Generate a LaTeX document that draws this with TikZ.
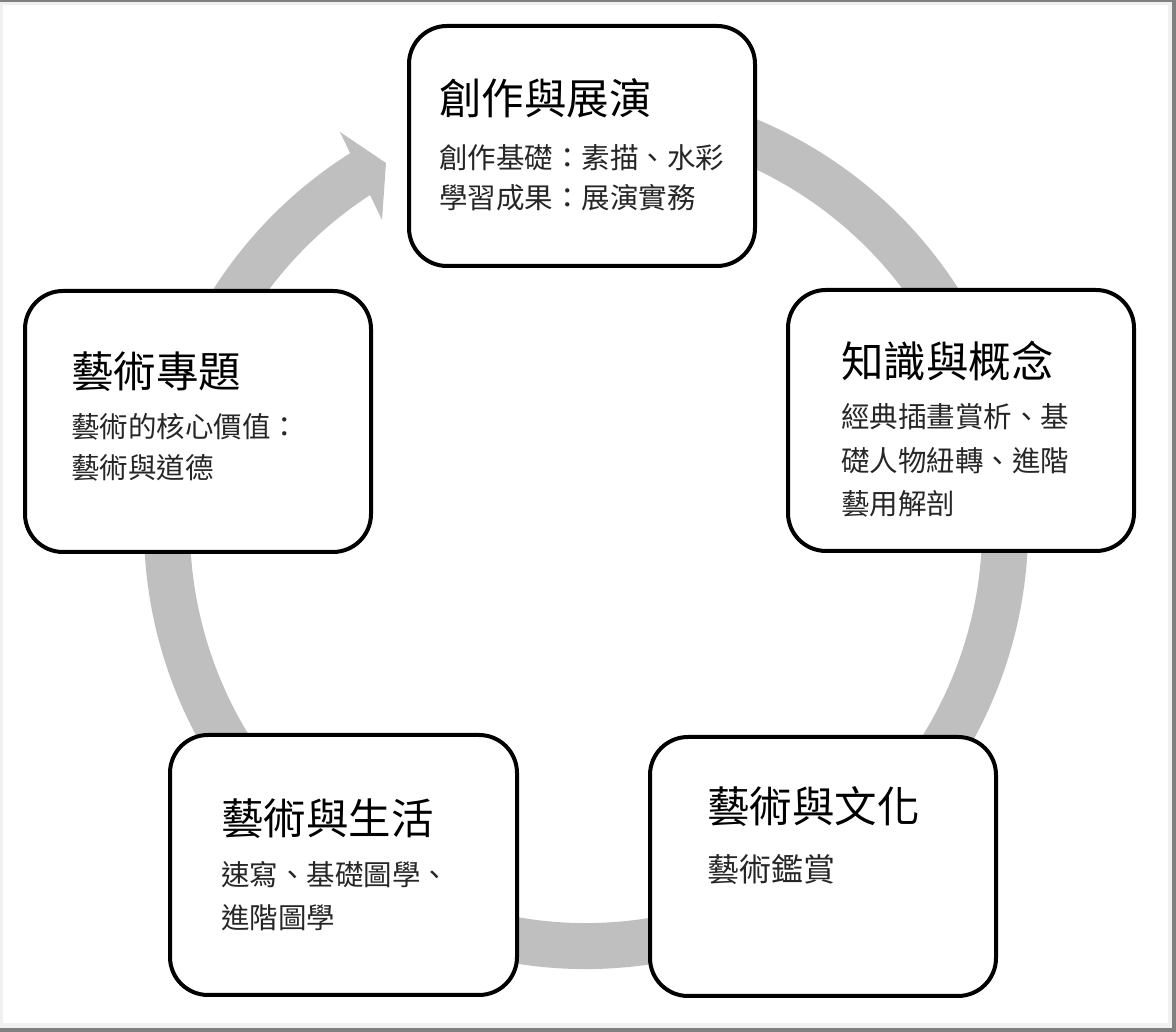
\documentclass[tikz,border=0pt]{standalone}
\usepackage{fontspec}
\newfontfamily\cjk{Noto Sans CJK TC}
\usetikzlibrary{calc}
\definecolor{ringgrey}{RGB}{191,191,191}
\definecolor{framedark}{RGB}{128,128,128}
\definecolor{framelight}{RGB}{240,240,240}
\begin{document}
\begin{tikzpicture}[x=1pt,y=1pt,
  card/.style={draw=black, line width=4pt, fill=white, rounded corners=38pt, inner sep=0pt, outer sep=0pt},
  ttl/.style={anchor=west, inner sep=0pt, font=\cjk\fontsize{42.5}{50}\selectfont, text=black},
  sub/.style={anchor=west, inner sep=0pt, font=\cjk\fontsize{28.5}{34}\selectfont, text=black!85},
  bigsub/.style={sub, font=\cjk\fontsize{32}{38}\selectfont}]
\useasboundingbox (0,0) rectangle (1176,1032);
% frame
\fill[framelight] (0,0) rectangle (1176,1032);
\fill[framedark] (0,1030) rectangle (1176,1032);
\fill[framedark] (1172,0) rectangle (1176,1032);
\fill[framedark] (0,0) rectangle (1176,4);
\fill[white] (3,9) rectangle (1168,1027);
% cycle ring with arrow head
\coordinate (c) at (586,505);
\draw[ringgrey, line width=46pt] ($(c)+(105:419)$) arc[start angle=105, end angle=-239, radius=419];
\fill[ringgrey] (340,900) -- (386,869) -- (382,812) -- cycle;
% boxes
\node[card, minimum width=346pt, minimum height=240pt] (top) at (582,886) {};
\node[card, minimum width=346pt, minimum height=261pt] (right) at (961,611.5) {};
\node[card, minimum width=346pt, minimum height=261pt] (left) at (198,610.5) {};
\node[card, minimum width=347pt, minimum height=260pt] (botleft) at (343.5,167) {};
\node[card, minimum width=346pt, minimum height=259pt] (botright) at (823,165.5) {};
% texts
\node[ttl] (topT) at (439,933.5) {創作與展演};
\node[sub] (topS1) at (439,874) {創作基礎：素描、水彩};
\node[sub] (topS2) at (439,834.5) {學習成果：展演實務};
\node[ttl] (rightT) at (841,671) {知識與概念};
\node[sub] (rightS1) at (841,615) {經典插畫賞析、基};
\node[sub] (rightS2) at (841,571.5) {礎人物紐轉、進階};
\node[sub] (rightS3) at (841,528) {藝用解剖};
\node[ttl] (leftT) at (71,660) {藝術專題};
\node[sub] (leftS1) at (71,605) {藝術的核心價值：};
\node[sub] (leftS2) at (71,564) {藝術與道德};
\node[ttl] (blT) at (221,213) {藝術與生活};
\node[sub] (blS1) at (221,157) {速寫、基礎圖學、};
\node[sub] (blS2) at (221,114) {進階圖學};
\node[ttl] (brT) at (707,225) {藝術與文化};
\node[bigsub] (brS1) at (707,162) {藝術鑑賞};
\end{tikzpicture}
\end{document}
